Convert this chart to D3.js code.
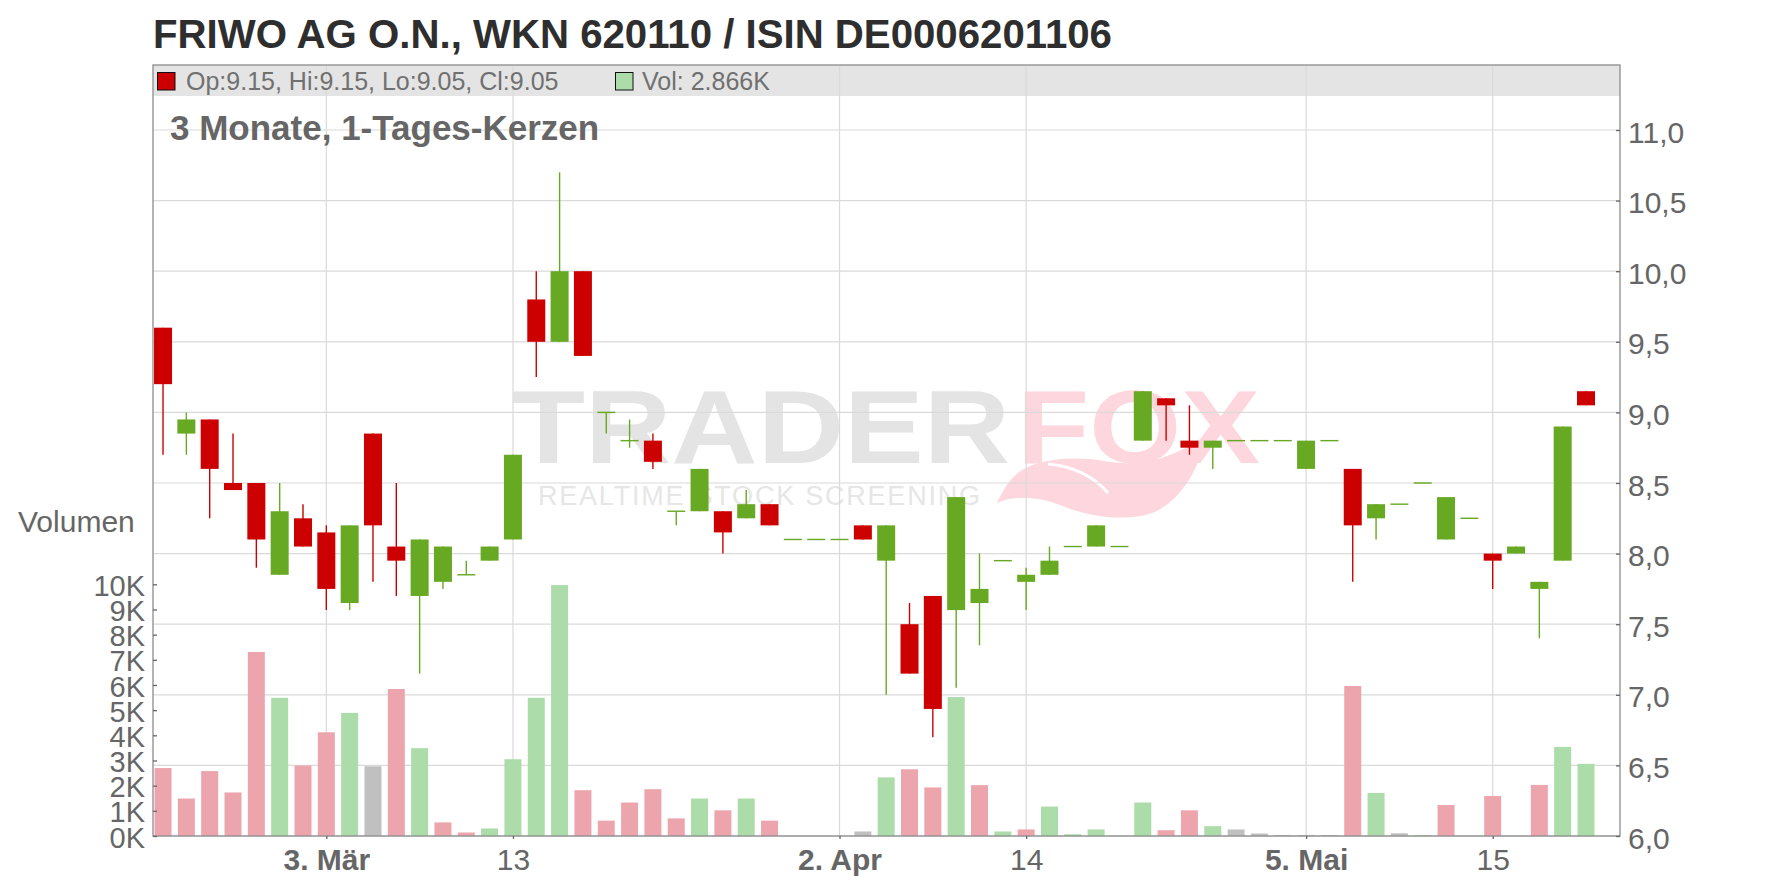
<!DOCTYPE html>
<html><head><meta charset="utf-8">
<script src="https://cdn.jsdelivr.net/npm/d3@7"></script>
<style>
html,body{margin:0;padding:0;background:#fff;}
svg{display:block;}
text{font-family:"Liberation Sans",Arial,sans-serif;}
</style></head><body>
<svg id="chart" width="1776" height="888"></svg>
<script>
// ---------- data ----------
const title = "FRIWO AG O.N., WKN 620110 / ISIN DE0006201106";
const subtitle = "3 Monate, 1-Tages-Kerzen";
const volumeLabel = "Volumen";

const dates = ["2025-02-20","2025-02-21","2025-02-24","2025-02-25","2025-02-26","2025-02-27","2025-02-28",
"2025-03-03","2025-03-04","2025-03-05","2025-03-06","2025-03-07","2025-03-10","2025-03-11","2025-03-12","2025-03-13","2025-03-14",
"2025-03-17","2025-03-18","2025-03-19","2025-03-20","2025-03-21","2025-03-24","2025-03-25","2025-03-26","2025-03-27","2025-03-28",
"2025-03-31","2025-04-01","2025-04-02","2025-04-03","2025-04-04","2025-04-07","2025-04-08","2025-04-09","2025-04-10","2025-04-11",
"2025-04-14","2025-04-15","2025-04-16","2025-04-17","2025-04-22","2025-04-23","2025-04-24","2025-04-25","2025-04-28","2025-04-29",
"2025-04-30","2025-05-02","2025-05-05","2025-05-06","2025-05-07","2025-05-08","2025-05-09","2025-05-12","2025-05-13","2025-05-14",
"2025-05-15","2025-05-16","2025-05-19","2025-05-20","2025-05-21"];

const open  = [9.6,8.85,8.95,8.5,8.5,7.85,8.25,8.15,7.65,8.85,8.05,7.7,7.8,7.85,7.95,8.1,9.8,9.5,10.0,9.0,8.8,8.8,8.3,8.3,8.3,8.25,8.35,
8.1,8.1,8.1,8.2,7.95,7.5,7.7,7.6,7.65,7.95,7.8,7.85,8.05,8.05,8.05,8.8,9.1,8.8,8.75,8.8,8.8,8.8,8.6,8.8,8.6,8.25,8.35,8.5,8.1,8.25,8.0,8.0,7.75,7.95,9.15];
const high  = [9.6,9.0,8.95,8.85,8.5,8.5,8.35,8.2,8.2,8.85,8.5,8.1,8.05,7.95,8.05,8.7,10.0,10.7,10.0,9.0,8.95,8.85,8.3,8.6,8.3,8.45,8.35,
8.1,8.1,8.1,8.2,8.2,7.65,7.7,8.4,8.0,7.95,7.9,8.05,8.05,8.2,8.05,9.15,9.1,9.05,8.8,8.8,8.8,8.8,8.8,8.8,8.6,8.35,8.35,8.5,8.4,8.25,8.0,8.05,7.8,8.9,9.15];
const low   = [8.7,8.7,8.25,8.45,7.9,7.85,8.05,7.6,7.6,7.8,7.7,7.15,7.75,7.85,7.95,8.1,9.25,9.5,9.4,8.85,8.75,8.6,8.2,8.3,8.0,8.25,8.2,
8.1,8.1,8.1,8.1,7.0,7.15,6.7,7.05,7.35,7.95,7.6,7.85,8.05,8.05,8.05,8.8,8.8,8.7,8.6,8.8,8.8,8.8,8.6,8.8,7.8,8.1,8.35,8.5,8.1,8.25,7.75,8.0,7.4,7.95,9.05];
const close = [9.2,8.95,8.6,8.45,8.1,8.3,8.05,7.75,8.2,8.2,7.95,8.1,8.05,7.85,8.05,8.7,9.5,10.0,9.4,9.0,8.8,8.65,8.3,8.6,8.15,8.35,8.2,
8.1,8.1,8.1,8.1,8.2,7.15,6.9,8.4,7.75,7.95,7.85,7.95,8.05,8.2,8.05,9.15,9.05,8.75,8.8,8.8,8.8,8.8,8.8,8.8,8.2,8.35,8.35,8.5,8.4,8.25,7.95,8.05,7.8,8.9,9.05];
// volume in thousands
const volumeK = [2.70,1.49,2.58,1.73,7.31,5.49,2.80,4.12,4.89,2.77,5.84,3.49,0.54,0.14,0.30,3.05,5.49,9.97,1.82,0.61,1.33,1.86,0.70,1.49,1.02,1.49,0.61,
0,0,0,0.18,2.33,2.65,1.93,5.52,2.02,0.18,0.26,1.17,0.07,0.26,0,1.33,0.23,1.02,0.39,0.26,0.10,0.04,0.04,0.04,5.96,1.71,0.11,0.04,1.23,0,1.59,0,2.03,3.54,2.866];
const closeBefore = 9.3; // close of the day before the first candle (estimated; first volume bar is "down")

const priceTicks = [6.0,6.5,7.0,7.5,8.0,8.5,9.0,9.5,10.0,10.5,11.0];
const volumeTicks = [0,1,2,3,4,5,6,7,8,9,10];
const xTickDates  = ["2025-03-03","2025-03-13","2025-04-02","2025-04-14","2025-05-05","2025-05-15"];
const xTickLabels = ["3. Mär","13","2. Apr","14","5. Mai","15"];
const xTickBold   = [true,false,true,false,true,false];

// ---------- styles / layout ----------
const L = 153, R = 1620, T = 65, B = 836, HEAD_B = 96;
const RED = "#cc0000", GREEN = "#67a922";
const VOL_UP = "#abdca9", VOL_DOWN = "#eda5ad", VOL_FLAT = "#c0c0c0";
const GRID = "#dadada", AXIS = "#8c8c8c", TXT = "#666666";

const svg = d3.select("#chart");

const n = dates.length;
const x = d3.scaleLinear().domain([-0.43, (n - 1) + 1.457]).range([L, R]);
const y = d3.scaleLinear().domain([6, 11]).range([B, 130]);
const v = d3.scaleLinear().domain([0, 10]).range([B, 584.3]);

const data = dates.map((d, i) => ({
  i, date: d, o: open[i], h: high[i], l: low[i], c: close[i], vol: volumeK[i],
  prev: i === 0 ? closeBefore : close[i - 1]
}));

// ---------- title ----------
svg.append("text").attr("x", 153).attr("y", 47.5)
  .attr("font-size", 40.2).attr("font-weight", "bold").attr("fill", "#2e2e2e").text(title);

// ---------- header band ----------
svg.append("rect").attr("x", L).attr("y", T).attr("width", R - L).attr("height", HEAD_B - T).attr("fill", "#e4e4e4");

// ---------- watermark ----------
const wm = svg.append("g").attr("class", "watermark");
wm.append("text").attr("x", 512).attr("y", 463)
  .attr("font-family", "'DejaVu Sans', sans-serif").attr("font-weight", "bold").attr("font-size", 104)
  .attr("textLength", 498).attr("lengthAdjust", "spacingAndGlyphs")
  .attr("fill", "#e4e4e4").text("TRADER");
wm.append("text").attr("x", 1017).attr("y", 463)
  .attr("font-family", "'DejaVu Sans', sans-serif").attr("font-weight", "bold").attr("font-size", 104)
  .attr("textLength", 243).attr("lengthAdjust", "spacingAndGlyphs")
  .attr("fill", "#fdd7dd").text("FOX");
wm.append("path")
  .attr("d", "M997,503 C1005,485 1015,472 1030,466 C1050,458 1080,456 1110,462 C1140,466 1170,460 1205,436 C1200,470 1180,500 1155,512 C1130,522 1090,518 1060,505 C1040,497 1015,495 997,503 Z")
  .attr("fill", "#fdd7dd");
wm.append("path")
  .attr("d", "M1048,464 C1072,466 1094,476 1108,493")
  .attr("fill", "none").attr("stroke", "#ffffff").attr("stroke-width", 3);
wm.append("text").attr("x", 538).attr("y", 505)
  .attr("font-family", "'DejaVu Sans', sans-serif").attr("font-size", 27)
  .attr("textLength", 442).attr("lengthAdjust", "spacing")
  .attr("fill", "#e6e6e6").text("REALTIME STOCK SCREENING");

// ---------- gridlines ----------
const grid = svg.append("g");
grid.selectAll("line.h").data(priceTicks).join("line")
  .attr("x1", L).attr("x2", R).attr("y1", d => y(d)).attr("y2", d => y(d))
  .attr("stroke", GRID).attr("stroke-width", 1.2);
const tickIdx = xTickDates.map(d => dates.indexOf(d));
grid.selectAll("line.v").data(tickIdx).join("line")
  .attr("x1", d => x(d)).attr("x2", d => x(d)).attr("y1", T).attr("y2", B)
  .attr("stroke", GRID).attr("stroke-width", 1.2);

// ---------- header text ----------
const last = data[n - 1];
const f2 = d3.format(".2f");
svg.append("rect").attr("x", 157.5).attr("y", 72.5).attr("width", 17.5).attr("height", 17.5)
  .attr("fill", last.c >= last.o ? GREEN : RED).attr("stroke", "#111").attr("stroke-width", 1);
svg.append("text").attr("x", 186).attr("y", 90).attr("font-size", 25).attr("fill", "#707070")
  .text(`Op:${f2(last.o)}, Hi:${f2(last.h)}, Lo:${f2(last.l)}, Cl:${f2(last.c)}`);
svg.append("rect").attr("x", 615.5).attr("y", 72.5).attr("width", 17.5).attr("height", 17.5)
  .attr("fill", last.c > last.prev ? VOL_UP : (last.c < last.prev ? VOL_DOWN : VOL_FLAT)).attr("stroke", "#111").attr("stroke-width", 1);
svg.append("text").attr("x", 642).attr("y", 90).attr("font-size", 25).attr("fill", "#707070")
  .text(`Vol: ${d3.format(".3f")(last.vol)}K`);

// subtitle
svg.append("text").attr("x", 170).attr("y", 139.5).attr("font-size", 35).attr("font-weight", "bold")
  .attr("fill", TXT).text(subtitle);

// ---------- volume bars ----------
svg.append("g").selectAll("rect").data(data.filter(d => d.vol > 0)).join("rect")
  .attr("x", d => x(d.i) - 8.5).attr("width", 17)
  .attr("y", d => v(d.vol)).attr("height", d => B - v(d.vol))
  .attr("fill", d => d.c > d.prev ? VOL_UP : (d.c < d.prev ? VOL_DOWN : VOL_FLAT));

// ---------- candles ----------
const up = d => d.c >= d.o;
const cg = svg.append("g");
cg.selectAll("line").data(data).join("line")
  .attr("x1", d => x(d.i)).attr("x2", d => x(d.i))
  .attr("y1", d => y(d.h)).attr("y2", d => y(d.l))
  .attr("stroke", d => up(d) ? GREEN : RED).attr("stroke-width", 1.4);
cg.selectAll("rect").data(data).join("rect")
  .attr("x", d => x(d.i) - 9).attr("width", 18)
  .attr("y", d => d.o === d.c ? y(d.c) - 0.7 : y(Math.max(d.o, d.c)))
  .attr("height", d => d.o === d.c ? 1.4 : y(Math.min(d.o, d.c)) - y(Math.max(d.o, d.c)))
  .attr("fill", d => up(d) ? GREEN : RED);

// ---------- frame ----------
svg.append("rect").attr("x", L).attr("y", T).attr("width", R - L).attr("height", B - T)
  .attr("fill", "none").attr("stroke", AXIS).attr("stroke-width", 1.3);

// ---------- axes ----------
function styleAxis(g, size) {
  g.select(".domain").remove();
  g.selectAll(".tick line").attr("stroke", "#666").attr("stroke-width", 1.3);
  g.selectAll(".tick text").attr("fill", TXT).attr("font-size", size).attr("font-family", '"Liberation Sans", Arial, sans-serif');
}
const priceFmt = d => d3.format(".1f")(d).replace(".", ",");
const ay = svg.append("g").attr("transform", `translate(${R},0)`)
  .call(d3.axisRight(y).tickValues(priceTicks).tickSizeInner(-4).tickSizeOuter(0).tickPadding(8).tickFormat(priceFmt));
styleAxis(ay, 30);
ay.selectAll(".tick text").attr("dy", "0.4em");

const av = svg.append("g").attr("transform", `translate(${L},0)`)
  .call(d3.axisLeft(v).tickValues(volumeTicks).tickSizeInner(-4).tickSizeOuter(0).tickPadding(8).tickFormat(d => d + "K"));
styleAxis(av, 29);
av.selectAll(".tick text").attr("dy", "0.38em");

const ax = svg.append("g").attr("transform", `translate(0,${B})`)
  .call(d3.axisBottom(x).tickValues(tickIdx).tickSizeInner(3).tickSizeOuter(0).tickPadding(10)
    .tickFormat((d, k) => xTickLabels[k]));
styleAxis(ax, 30);
ax.selectAll(".tick text").attr("font-weight", (d, k) => xTickBold[k] ? "bold" : "normal");

// Volumen label
svg.append("text").attr("x", 18).attr("y", 532).attr("font-size", 30).attr("fill", TXT).text(volumeLabel);
</script>
</body></html>
